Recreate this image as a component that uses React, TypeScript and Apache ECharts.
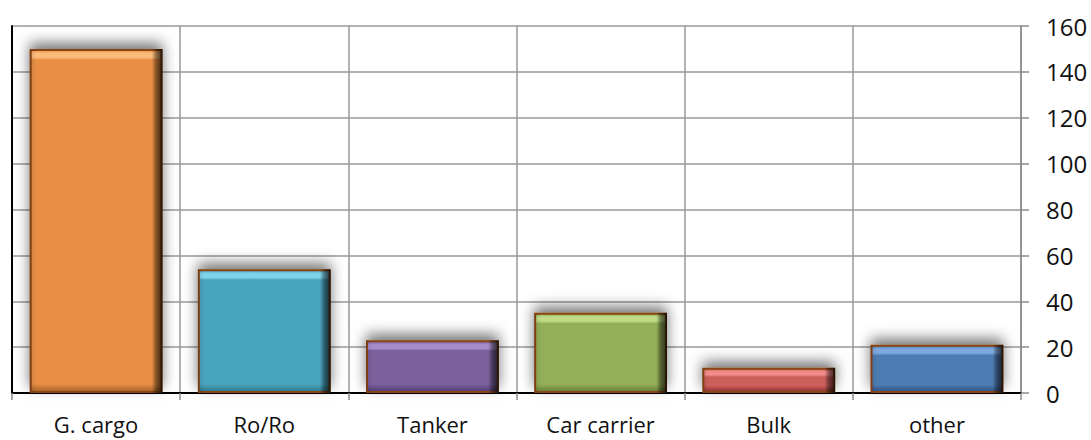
import React, { useEffect, useRef } from "react";
import * as echarts from "echarts";

const categories = ["G. cargo", "Ro/Ro", "Tanker", "Car carrier", "Bulk", "other"];
const values = [150, 54, 23, 35, 11, 21];
const colors = ["#E88E45", "#4AA4BD", "#7B5F9C", "#93AF58", "#CC5E5B", "#4E7CB3"];
const lightColors = ["#FDBB7A", "#7FD3EA", "#A78CCB", "#C0DC86", "#F08C89", "#7EA9DE"];
const darkColors = ["#A35E22", "#2C7487", "#4F3A6B", "#647B33", "#8A3230", "#2E5282"];

export default function App() {
  const ref = useRef<HTMLDivElement>(null);
  useEffect(() => {
    if (!ref.current) return;
    const chart = echarts.init(ref.current, null, { renderer: "svg" });
    const font = "'Open Sans', sans-serif";
    const mainData = values.map((v, i) => {
      const b = Math.min(0.35, 10 / (v * 2.294));
      return {
        value: v,
        itemStyle: {
          color: new echarts.graphic.LinearGradient(0, 0, 0, 1, [
            { offset: 0, color: colors[i] },
            { offset: b * 0.35, color: lightColors[i] },
            { offset: b * 0.75, color: lightColors[i] },
            { offset: b, color: colors[i] },
            { offset: 1 - b * 0.8, color: colors[i] },
            { offset: 1, color: darkColors[i] },
          ]),
        },
      };
    });
    chart.setOption({
      animation: false,
      grid: { left: 12, right: 70, top: 26, bottom: 47 },
      xAxis: [
        {
          type: "category",
          data: categories,
          position: "bottom",
          axisLine: { show: true, lineStyle: { color: "#7f7f7f", width: 1.5 } },
          axisTick: { show: true, length: 7, lineStyle: { color: "#8a8a8a", width: 1.5 } },
          splitLine: { show: true, lineStyle: { color: "#999999", width: 1.5 } },
          axisLabel: { fontSize: 22, color: "#111", fontFamily: font, margin: 20 },
        },
        {
          type: "category",
          data: categories,
          position: "top",
          axisLine: { show: true, lineStyle: { color: "#000", width: 2 } },
          axisTick: { show: false },
          axisLabel: { show: false },
          splitLine: { show: false },
        },
      ],
      yAxis: [
        {
          type: "value",
          position: "right",
          min: 0,
          max: 160,
          interval: 20,
          axisLine: { show: true, lineStyle: { color: "#8a8a8a", width: 1.5 } },
          axisTick: { show: true, length: 8, lineStyle: { color: "#8a8a8a", width: 1.5 } },
          splitLine: { show: true, lineStyle: { color: "#999999", width: 1.5 } },
          axisLabel: { fontSize: 24, color: "#111", fontFamily: font, margin: 25 },
        },
        {
          type: "value",
          position: "left",
          min: 0,
          max: 160,
          interval: 20,
          axisLine: { show: true, lineStyle: { color: "#000", width: 2 } },
          axisTick: { show: false },
          axisLabel: { show: false },
          splitLine: { show: false },
        },
      ],
      series: [
        {
          type: "bar",
          data: mainData,
          barWidth: "79%",
          itemStyle: {
            borderColor: "#8A4512",
            borderWidth: 2,
            shadowBlur: 14,
            shadowColor: "rgba(0,0,0,0.55)",
            shadowOffsetY: -6,
          },
          z: 2,
        },
        {
          type: "bar",
          data: values,
          barWidth: "79%",
          barGap: "-100%",
          silent: true,
          itemStyle: {
            borderWidth: 0,
            color: new echarts.graphic.LinearGradient(0, 0, 1, 0, [
              { offset: 0, color: "rgba(0,0,0,0.12)" },
              { offset: 0.05, color: "rgba(0,0,0,0)" },
              { offset: 0.92, color: "rgba(0,0,0,0)" },
              { offset: 0.95, color: "rgba(0,0,0,0.4)" },
              { offset: 1, color: "rgba(0,0,0,0.75)" },
            ]),
          },
          z: 3,
        },
      ],
    });
    return () => chart.dispose();
  }, []);
  return (
    <div
      ref={ref}
      style={{ position: "fixed", left: 0, top: 0, width: 1091, height: 440, background: "#fff" }}
    />
  );
}
